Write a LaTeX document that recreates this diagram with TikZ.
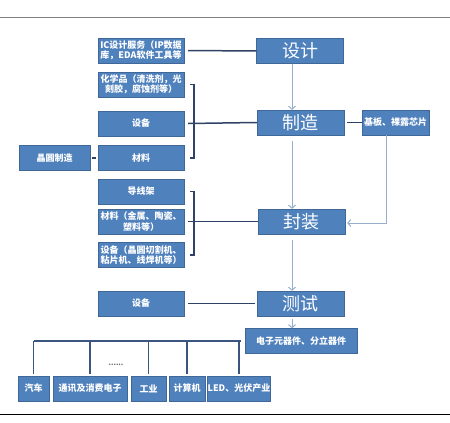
\documentclass[tikz,border=0pt]{standalone}
\usepackage{fontspec}
\setmainfont{Noto Sans CJK SC}
\usetikzlibrary{calc,arrows.meta}
\definecolor{boxblue}{HTML}{4F81BD}
\definecolor{boxedge}{HTML}{3F6899}
\definecolor{linkcol}{HTML}{2E4366}
\definecolor{buscol}{HTML}{3A5680}
\definecolor{flowcol}{HTML}{95AECB}
\tikzset{
  blk/.style={draw=boxedge, fill=boxblue, text=white, minimum height=25pt,
    inner sep=0pt, align=center, font=\fontsize{9}{10.5}\selectfont\bfseries},
  side/.style={blk, minimum width=86pt},
  stage/.style={blk, minimum width=87pt, font=\fontsize{18}{18}\selectfont},
  link/.style={draw=linkcol, line width=1.5pt},
  bus/.style={draw=buscol, line width=1.3pt},
  flow/.style={draw=flowcol, line width=1pt, -{Straight Barb[length=3pt,width=7pt]}},
  rule/.style={line width=1pt}
}

\begin{document}
\begin{tikzpicture}[x=1pt,y=-1pt]
\useasboundingbox (0,0) rectangle (450,423);
\draw[rule, gray] (0,17) -- (450,17);
\draw[rule] (0,414) -- (450,414);
\coordinate (ax) at (292,0);
% main chain
\node[stage] (design) at (300,51) {设计};
\node[stage] (manuf) at (300.5,122.5) {制造};
\node[stage] (pack) at (301.5,221.5) {封装};
\node[stage] (test) at (300.5,303.5) {测试};
\node[blk, minimum width=67pt] (substr) at (395.5,122.5) {基板、裸露芯片};
\node[blk, minimum width=112pt] (elec) at (301,341) {电子元器件、分立器件};
% inputs
\node[side] (ic) at (141,50.5) {IC设计服务（IP数据\\库，EDA软件工具等};
\node[side] (chem) at (141,84.5) {化学品（清洗剂，光\\刻胶，腐蚀剂等）};
\node[side] (equipA) at (141,123.5) {设备};
\node[side] (matA) at (141,158) {材料};
\node[blk, minimum width=71pt] (wafer) at (54.5,158) {晶圆制造};
\node[side] (lead) at (141,191.5) {导线架};
\node[side] (matB) at (141,221.5) {材料（金属、陶瓷、\\塑料等）};
\node[side] (equipB) at (141,255) {设备（晶圆切割机、\\粘片机、线焊机等）};
\node[side] (equipC) at (141,303.5) {设备};
% applications
\node[blk, minimum width=31pt] (car) at (33.5,388.5) {汽车};
\node[blk, minimum width=74pt] (comm) at (90,388.5) {通讯及消费电子};
\node[blk, minimum width=35pt] (ind) at (148.5,388.5) {工业};
\node[blk, minimum width=36pt] (comp) at (187,388.5) {计算机};
\node[blk, minimum width=62pt] (led) at (239,388.5) {LED、光伏产业};
\node[text=gray!80!black, font=\scriptsize\bfseries] (dots) at (116,365) {......};

\draw[link] ($(ic.east)+(4,0)$) -- (design.west);
\draw[link] ($(chem.east)+(6,0)$) -- ++(4,0) |- ($(matA.east)+(6,0)$);
\draw[link] ($(equipA.east)+(4,0)$) -- (manuf.west);
\draw[link] ($(wafer.east)+(2,0)$) -- ($(matA.west)+(-2,0)$);
\draw[link] ($(manuf.east)+(3,0)$) -- (substr.west);
\draw[link] ($(lead.east)+(6,0)$) -- ++(4,0) |- ($(equipB.east)+(6,0)$);
\draw[link] ($(matB.east)+(4,0)$) -- (pack.west);
\draw[link] ($(equipC.east)+(4,0)$) -- ($(test.west)+(-2,0)$);
\draw[bus] ($(elec.west)+(-4,0)$) -- (elec.west -| car);
\foreach \b in {car,comm,ind,comp,led}
  \draw[bus] (elec.west -| \b) -- ($(\b.north)+(0,-2)$);

\draw[flow] (design.south -| ax) -- (manuf.north -| ax);
\draw[flow, shorten <=6pt] (manuf.south -| ax) -- (pack.north -| ax);
\draw[flow, shorten <=6pt] (pack.south -| ax) -- (test.north -| ax);
\draw[flow, shorten <=3pt] (test.south -| ax) -- (elec.north -| ax);
\draw[flow] ($(substr.south)+(-9,0)$) |- ($(pack.east)+(2,1.5)$);
\end{tikzpicture}
\end{document}
